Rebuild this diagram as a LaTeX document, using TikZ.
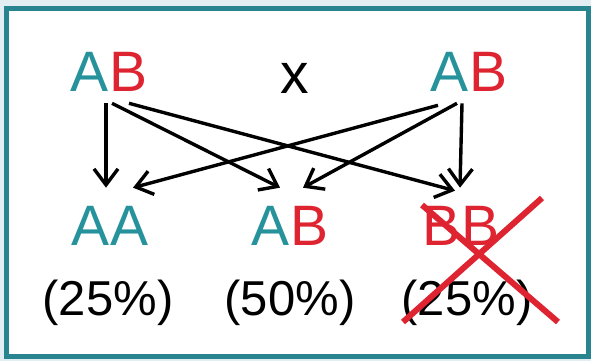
\documentclass[tikz,border=0pt]{standalone}
\usepackage{fontspec}
\setmainfont{Liberation Sans}
\usepackage{tikz}
\usetikzlibrary{arrows.meta}

\definecolor{geneA}{RGB}{38,146,156}
\definecolor{geneB}{RGB}{222,36,48}
\definecolor{frame}{RGB}{40,132,142}
\definecolor{outside}{RGB}{226,238,241}

\newcommand{\allele}[2]{\textcolor{geneA}{#1}\textcolor{geneB}{#2}}

\begin{document}
\begin{tikzpicture}[x=1pt,y=-1pt,->,>={Straight Barb[length=16pt,width=24pt]},
  line width=3.4pt]
  \tikzset{gene/.style={inner sep=0pt,font=\fontsize{57}{60}\selectfont},
           share/.style={inner sep=0pt,font=\fontsize{49}{52}\selectfont}}

  \fill[outside] (0,0) rectangle (591,361);
  \useasboundingbox (0,0) rectangle (591,361);
  \draw[-,frame,line width=5pt,fill=white] (6,9) rectangle (588,356);

  \node[gene]  (pL)    at (109,72)  {\allele{A}{B}};
  \node[gene]  (cross) at (295,78)  {x};
  \node[gene]  (pR)    at (469,72)  {\allele{A}{B}};

  \node[gene]  (AA)    at (110,226) {\textcolor{geneA}{AA}};
  \node[gene]  (AB)    at (290,226) {\allele{A}{B}};
  \node[gene]  (BB)    at (461,226) {\textcolor{geneB}{BB}};

  \node[share] (pAA)   at (108,303) {(25\%)};
  \node[share] (pAB)   at (290,303) {(50\%)};
  \node[share] (pBB)   at (467,303) {(25\%)};

  % from the left parent
  \draw ([xshift=-3pt,yshift=-10pt]pL.south) -- ([xshift=-4pt,yshift=17pt]AA.north);
  \draw ([xshift=3pt,yshift=-10pt]pL.south)  -- ([xshift=-10pt,yshift=17pt]AB.north);
  \draw ([xshift=20pt,yshift=-10pt]pL.south) -- ([xshift=-6pt,yshift=14pt]BB.north);

  % from the right parent
  \draw ([xshift=-7pt,yshift=-10pt]pR.south)  -- ([xshift=-1pt,yshift=17pt]BB.north);
  \draw ([xshift=-12pt,yshift=-10pt]pR.south) -- ([xshift=13pt,yshift=17pt]AB.north);
  \draw ([xshift=-31pt,yshift=-12pt]pR.south) -- ([xshift=23pt,yshift=17pt]AA.north);

  % BB is crossed out
  \draw[-,geneB,line width=6pt] (403,322) -- (542,198)
                                (422,205) -- (558,322);
\end{tikzpicture}
\end{document}
